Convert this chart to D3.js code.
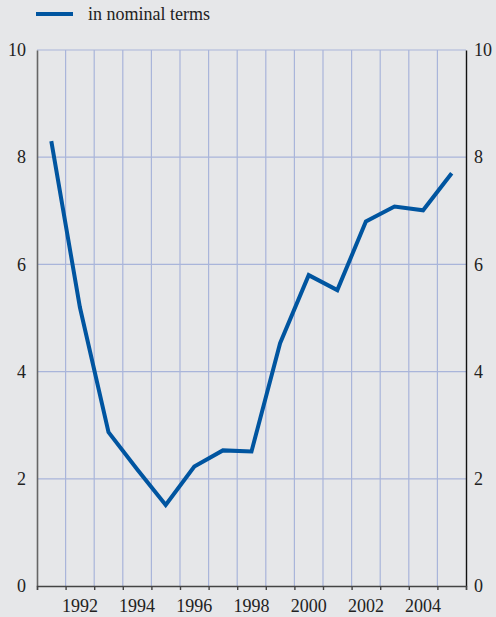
<!DOCTYPE html>
<html lang="en">
<head>
    <meta charset="UTF-8">
    <title>in nominal terms</title>
    <style>
        body { margin: 0; background: #e6e7e9; }
        svg { display: block; }
        svg text { font-family: "Liberation Serif", "DejaVu Serif", serif !important; }
    </style>
</head>
<body>
    <script src="https://cdn.jsdelivr.net/npm/d3@7"></script>
    <script>
        // data
        const years = [1991, 1992, 1993, 1994, 1995, 1996, 1997, 1998, 1999, 2000, 2001, 2002, 2003, 2004, 2005];
        const nominal = [8.30, 5.20, 2.87, 2.18, 1.51, 2.23, 2.53, 2.51, 4.53, 5.80, 5.52, 6.80, 7.08, 7.01, 7.70];
        const yTicks = [0, 2, 4, 6, 8, 10];
        const xLabels = [1992, 1994, 1996, 1998, 2000, 2002, 2004];
        const seriesName = 'in nominal terms';

        const w = 496;
        const h = 617;
        const pLeft = 37, pRight = 466, pTop = 50, pBottom = 586;
        const fs = 18;

        const svg = d3.select('body')
            .append('svg')
            .attr('width', w)
            .attr('height', h);

        const x = d3.scaleLinear()
            .domain([years[0] - 0.5, years[years.length - 1] + 0.5])
            .range([pLeft, pRight]);
        const y = d3.scaleLinear()
            .domain([0, 10])
            .range([pBottom, pTop]);

        // boundaries between year slots
        const bounds = d3.range(years[0] - 0.5, years[years.length - 1] + 1, 1);

        // grid
        svg.append('g')
            .selectAll('line')
            .data(bounds.slice(1, -1))
            .enter()
            .append('line')
            .attr('x1', d => x(d)).attr('x2', d => x(d))
            .attr('y1', pTop).attr('y2', pBottom)
            .attr('stroke', '#a9b5da')
            .attr('stroke-width', 1.2);

        svg.append('g')
            .selectAll('line')
            .data(yTicks.slice(1))
            .enter()
            .append('line')
            .attr('x1', pLeft).attr('x2', pRight)
            .attr('y1', d => y(d)).attr('y2', d => y(d))
            .attr('stroke', '#a9b5da')
            .attr('stroke-width', 1.2);

        // left axis
        const yLeft = svg.append('g')
            .attr('transform', `translate(${pLeft},0)`)
            .call(d3.axisLeft(y).tickValues(yTicks).tickSize(0).tickPadding(11));
        yLeft.select('.domain').attr('stroke', '#666').attr('stroke-width', 1.6);
        yLeft.selectAll('text').attr('font-size', fs).attr('fill', '#222');

        // right axis
        const yRight = svg.append('g')
            .attr('transform', `translate(${pRight},0)`)
            .call(d3.axisRight(y).tickValues(yTicks).tickSize(0).tickPadding(8));
        yRight.select('.domain').attr('stroke', '#111').attr('stroke-width', 1.4);
        yRight.selectAll('text').attr('font-size', fs).attr('fill', '#222');

        // bottom axis: ticks on slot bounds, labels in slot centres
        const xAxis = svg.append('g')
            .attr('transform', `translate(0,${pBottom})`)
            .call(d3.axisBottom(x).tickValues(bounds).tickSize(4).tickFormat(''));
        xAxis.select('.domain').attr('stroke', '#444').attr('stroke-width', 1.4);
        xAxis.selectAll('.tick line').attr('stroke', '#444').attr('stroke-width', 1.4);

        svg.append('g')
            .selectAll('text')
            .data(xLabels)
            .enter()
            .append('text')
            .attr('x', d => x(d))
            .attr('y', pBottom + 26)
            .attr('text-anchor', 'middle')
            .attr('font-size', fs)
            .attr('fill', '#222')
            .text(d => d);

        // series
        const line = d3.line()
            .x((d, i) => x(years[i]))
            .y(d => y(d));
        svg.append('path')
            .datum(nominal)
            .attr('d', line)
            .attr('fill', 'none')
            .attr('stroke', '#0055a0')
            .attr('stroke-width', 4)
            .attr('stroke-linejoin', 'miter');

        // legend
        svg.append('line')
            .attr('x1', 36).attr('x2', 73)
            .attr('y1', 14).attr('y2', 14)
            .attr('stroke', '#0055a0')
            .attr('stroke-width', 4);
        svg.append('text')
            .attr('x', 88).attr('y', 20)
            .attr('font-size', fs)
            .attr('fill', '#222')
            .text(seriesName);
    </script>
</body>
</html>
